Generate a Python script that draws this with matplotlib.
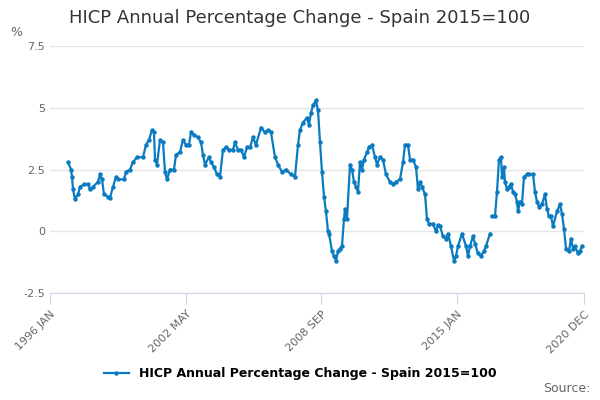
import matplotlib
matplotlib.use("Agg")
import matplotlib.pyplot as plt
import numpy as np

# pixel-traced positions (x px) and values
xpx = [68,71,72,73,75,78,80,84,88,90,93,98,100,102,104,108,110,113,116,118,124,126,130,133,137,143,146,149,152,154,155,157,160,163,165,167,170,174,176,180,183,186,189,191,194,198,201,203,205,209,211,214,217,220,223,226,229,233,235,238,241,244,247,250,253,256,261,265,268,271,275,278,282,286,291,295,298,300,303,307,309,311,313,316,318,320,322,324,326,328,329,332,334,336,338,340,342,344,345,347,350,352,354,356,358,360,362,364,367,369,372,375,377,380,383,386,390,393,396,400,403,405,408,410,413,416,418,420,422,425,427,429,433,436,438,440,443,446,448,451,454,456,458,462,466,468,470,473,475,478,481,484,486,490,491,492,495,497,499,501,502,504,505,507,509,511,513,515,517,518,520,522,524,527,529,533,535,537,539,542,545,547,549,551,553,557,560,562,564,566,569,571,573,575,578,580,582]
values = [2.8,2.5,2.2,1.7,1.3,1.5,1.8,1.9,1.9,1.7,1.8,2.0,2.3,2.1,1.5,1.4,1.35,1.8,2.2,2.1,2.1,2.4,2.5,2.8,3.0,3.0,3.5,3.7,4.1,4.0,2.9,2.7,3.7,3.6,2.4,2.1,2.5,2.5,3.1,3.2,3.7,3.5,3.5,4.0,3.9,3.8,3.6,3.1,2.7,3.0,2.8,2.6,2.3,2.2,3.3,3.4,3.3,3.3,3.6,3.3,3.3,3.0,3.4,3.4,3.8,3.5,4.2,4.0,4.1,4.0,3.0,2.7,2.4,2.5,2.3,2.2,3.5,4.1,4.4,4.6,4.3,4.8,5.1,5.3,4.9,3.6,2.4,1.4,0.8,0.0,-0.1,-0.8,-1.0,-1.2,-0.8,-0.7,-0.6,0.5,0.9,0.5,2.7,2.5,2.0,1.8,1.6,2.8,2.5,2.9,3.2,3.4,3.5,3.0,2.7,3.0,2.9,2.3,2.0,1.9,2.0,2.1,2.8,3.5,3.5,2.9,2.9,2.6,1.7,2.0,1.8,1.5,0.5,0.3,0.3,0.0,0.25,0.2,-0.2,-0.3,-0.1,-0.6,-1.2,-1.0,-0.6,-0.1,-0.6,-1.0,-0.6,-0.2,-0.5,-0.9,-1.0,-0.8,-0.6,-0.1,np.nan,0.6,0.6,1.6,2.9,3.0,2.2,2.6,2.0,1.7,1.8,1.9,1.6,1.5,1.2,0.8,1.2,1.1,2.2,2.3,2.3,2.3,1.6,1.2,1.0,1.1,1.5,0.9,0.6,0.6,0.2,0.8,1.1,0.7,0.1,-0.7,-0.8,-0.3,-0.7,-0.6,-0.9,-0.8,-0.6]
months = [(x - 50) / 1.786 for x in xpx]  # months since 1996 JAN

tick_pos = [0, 76, 152, 228, 299]
tick_labels = ["1996 JAN", "2002 MAY", "2008 SEP", "2015 JAN", "2020 DEC"]
series_name = "HICP Annual Percentage Change - Spain 2015=100"
color = "#0a7bc1"

fig = plt.figure(figsize=(6, 4), dpi=100)
ax = fig.add_axes([50/600, 1-293/400, 534/600, 247/400])
ax.plot(months, values, color=color, lw=1.6, marker="o", ms=2.2, label=series_name)
ax.set_xlim(0, 299)
ax.set_ylim(-2.5, 7.5)
ax.set_yticks([-2.5, 0, 2.5, 5, 7.5])
ax.set_yticklabels(["-2.5", "0", "2.5", "5", "7.5"])
ax.set_xticks(tick_pos)
ax.set_xticklabels(tick_labels, rotation=45, ha="right", rotation_mode="anchor")
ax.grid(axis="y", color="#e6e6e6", lw=1)
ax.set_axisbelow(True)
for s in ["top", "right", "left"]:
    ax.spines[s].set_visible(False)
ax.spines["bottom"].set_color("#ccd6eb")
ax.tick_params(axis="y", length=0, labelsize=8, colors="#666666")
ax.tick_params(axis="x", length=8, color="#ccd6eb", labelsize=8, labelcolor="#666666")
fig.text(300/600, 1-18/400, "HICP Annual Percentage Change - Spain 2015=100", ha="center", va="center", fontsize=13, color="#333333")
fig.text(10/600, 1-32/400, "%", fontsize=9, color="#666666", va="center")
fig.legend(loc="center", bbox_to_anchor=(300/600, 1-374/400), frameon=False, fontsize=9,
           prop={"weight": "bold", "size": 9}, handlelength=2)
fig.text(590/600, 1-389/400, "Source:", ha="right", va="center", fontsize=9, color="#666666")
fig.savefig("out.png", dpi=100)
